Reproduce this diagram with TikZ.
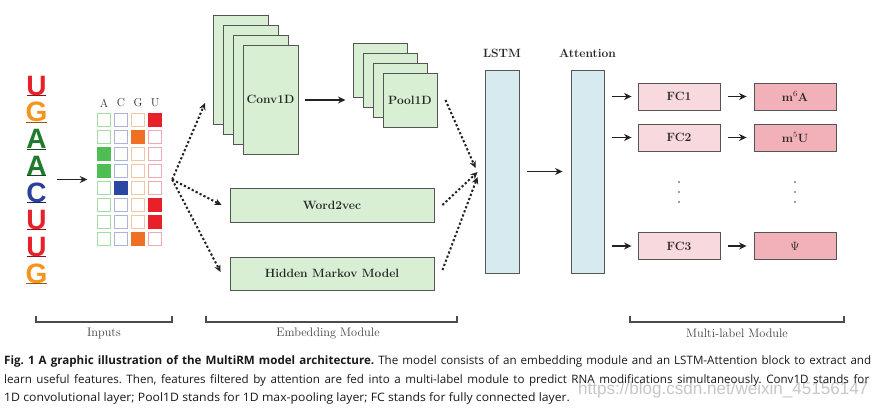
\documentclass[tikz,border=0pt]{standalone}
\usepackage{fontspec}
\usetikzlibrary{arrows.meta,calc,fit}
\newfontfamily\logofont{Liberation Sans}
\newfontfamily\capfont{Open Sans}
\newfontfamily\wmfont{Liberation Sans}
\definecolor{cU}{HTML}{E8202A}
\definecolor{cG}{HTML}{F7941D}
\definecolor{cA}{HTML}{1F7A2E}
\definecolor{cC}{HTML}{2B3F9A}
\definecolor{gA}{HTML}{4DBE53}
\definecolor{gC}{HTML}{2A47A3}
\definecolor{gG}{HTML}{EF7023}
\definecolor{gU}{HTML}{E8202A}
\definecolor{lA}{HTML}{A6DAA6}
\definecolor{lC}{HTML}{A9B5DD}
\definecolor{lG}{HTML}{F6C3A3}
\definecolor{lU}{HTML}{F3A9B1}
\definecolor{embfill}{HTML}{D9EFD4}
\definecolor{lstmfill}{HTML}{D7EAF0}
\definecolor{fcfill}{HTML}{F8D9DD}
\definecolor{outfill}{HTML}{F2B1B9}
\definecolor{edgec}{HTML}{555555}
\definecolor{arr}{HTML}{222222}
\tikzset{
  box/.style={draw=edgec, line width=0.9pt, inner sep=0pt, anchor=center},
  emb/.style={box, fill=embfill},
  rnn/.style={box, fill=lstmfill},
  fcbox/.style={box, fill=fcfill, minimum width=82pt, minimum height=27pt},
  outbox/.style={box, fill=outfill, minimum width=82pt, minimum height=27pt},
  lbl/.style={font=\fontsize{12}{14}\selectfont\bfseries, text=black!85},
  cell/.style={line width=1pt, minimum size=13pt, inner sep=0pt, anchor=center},
  logo/.style={font=\logofont\bfseries\fontsize{28}{28}\selectfont, inner sep=0pt},
  hdr/.style={font=\fontsize{11.5}{13}\selectfont, text=black!80, inner sep=0pt},
  arrowsolid/.style={draw=arr, line width=1.6pt, -{Stealth[length=7.5pt,width=7pt]}},
  dotarrow/.style={draw=arr, line width=2pt, dash pattern=on 2.2pt off 2.2pt, -{Stealth[length=7pt,width=6.5pt]}},
  bracket/.style={draw=black!70, line width=1.1pt},
  brlbl/.style={font=\fontsize{12.3}{14}\selectfont, text=black!75, inner sep=0pt},
  capnode/.style={anchor=base west, inner sep=0pt, font=\capfont\fontsize{11.6}{13}\selectfont\frenchspacing, text=black!90},
}
\begin{document}
\begin{tikzpicture}[x=1pt,y=-1pt]
\useasboundingbox[fill=white] (0,0) rectangle (876,410);

% sequence logo
\foreach \i/\L/\cc in {0/U/cU,1/G/cG,2/A/cA,3/A/cA,4/C/cC,5/U/cU,6/U/cU,7/G/cG} {
  \pgfmathsetmacro\yb{95+26.9*\i}
  \node[logo, text=\cc, anchor=base] (seq\i) at (36.5,\yb) {\L};
  \draw[\cc!60!black, line width=0.6pt] ($(seq\i.base west)+(0.5,0)$) -- ($(seq\i.base east)+(-0.5,0)$);
}
\node[fit=(seq0)(seq7), inner sep=0pt] (logo) {};

% one-hot grid
\foreach \c/\col in {1/A,2/C,3/G,4/U} {
  \pgfmathsetmacro\xx{104+17*(\c-1)}
  \node[hdr] (hdr\col) at (\xx,103) {\col};
}
\foreach \r/\fc in {1/4,2/3,3/1,4/1,5/2,6/4,7/4,8/3} {
  \foreach \c/\col in {1/A,2/C,3/G,4/U} {
    \pgfmathsetmacro\xx{104+17*(\c-1)}
    \pgfmathsetmacro\yy{120+17*(\r-1)}
    \ifnum\c=\fc
      \node[cell, fill=g\col, draw=g\col] (cell-\r-\c) at (\xx,\yy) {};
    \else
      \node[cell, draw=l\col, fill=white] (cell-\r-\c) at (\xx,\yy) {};
    \fi
  }
}
\node[fit=(cell-1-1)(cell-8-4), inner sep=0pt] (grid) {};
\draw[arrowsolid] ($(grid.west)+(-40,0)$) -- ($(grid.west)+(-9.5,0)$);
\coordinate (split) at ($(grid.east)+(10,0)$);

% Conv1D stack
\node[emb, minimum width=55pt, minimum height=109pt] (c1) at (240.5,69.5) {};
\node[emb, minimum width=55pt, minimum height=109pt] (c2) at (250.5,79.5) {};
\node[emb, minimum width=55pt, minimum height=109pt] (c3) at (260.5,89.5) {};
\node[emb, minimum width=55pt, minimum height=109pt] (c4) at (270.5,99.5) {};
\node[lbl] (convlbl) at (c4) {Conv1D};

% Pool1D stack
\node[emb, minimum width=54pt, minimum height=54pt] (p1) at (380,70) {};
\node[emb, minimum width=54pt, minimum height=54pt] (p2) at (390,80) {};
\node[emb, minimum width=54pt, minimum height=54pt] (p3) at (400,90) {};
\node[emb, minimum width=54pt, minimum height=54pt] (p4) at (410,100) {};
\node[lbl] (poollbl) at (p4) {Pool1D};
\draw[arrowsolid] ($(c4.east)+(7,0.5)$) -- ($(c4.east)+(47,0.5)$);

% Word2vec, HMM
\node[emb, minimum width=204pt, minimum height=34pt] (w2v) at (332,205) {};
\node[lbl] at (w2v) {Word2vec};
\node[emb, minimum width=204pt, minimum height=33pt] (hmm) at (332,273.5) {};
\node[lbl] at (hmm) {Hidden Markov Model};

% LSTM / Attention
\node[rnn, minimum width=34pt, minimum height=203pt] (lstm) at (502,171.5) {};
\node[rnn, minimum width=33pt, minimum height=203pt] (att) at (587.5,171.5) {};
\node[lbl] (lstmlbl) at (502,53) {LSTM};
\node[lbl] (attlbl) at (587.5,53) {Attention};
\draw[arrowsolid] ($(lstm.east)+(8,0)$) -- ($(att.west)+(-8,0)$);

% dotted connectors
\draw[dotarrow] (split) -- ($(c1.south west)+(-7.5,-21.5)$);
\draw[dotarrow] (split) -- ($(w2v.west)+(-8,0)$);
\draw[dotarrow] (split) -- ($(hmm.west)+(-9,-1.5)$);
\draw[dotarrow] ($(p4.east)+(8,0)$) -- ($(lstm.west)+(-9,-3.5)$);
\draw[dotarrow] ($(w2v.east)+(8,0)$) -- ($(lstm.west)+(-7,0.5)$);
\draw[dotarrow] ($(hmm.east)+(8,-3.5)$) -- ($(lstm.west)+(-7,5.5)$);

% multi-label module
\node[fcbox] (fc1) at (679,96.5) {};
\node[fcbox] (fc2) at (679,137.5) {};
\node[fcbox] (fc3) at (679,246) {};
\node[lbl] at (fc1) {FC1};
\node[lbl] at (fc2) {FC2};
\node[lbl] at (fc3) {FC3};
\node[outbox] (out1) at (795,96.5) {};
\node[outbox] (out2) at (795,137.5) {};
\node[outbox] (out3) at (795,246) {};
\node[lbl] at (out1) {m$^{6}$A};
\node[lbl] at (out2) {m$^{5}$U};
\node[lbl] at (out3) {$\Psi$};
\foreach \k in {1,2,3} {
  \draw[arrowsolid] ($(fc\k.west)+(-26,0)$) -- ($(fc\k.west)+(-6,0)$);
  \draw[arrowsolid] ($(fc\k.east)+(8,0)$) -- ($(out\k.west)+(-7,0)$);
}
\foreach \yy in {182,192,202} {
  \fill[black!75] (679,\yy) circle (0.8pt);
  \fill[black!75] (795,\yy) circle (0.8pt);
}

% brackets
\draw[bracket] (36,316) -- (36,322) -- (172,322) -- (172,316);
\node[brlbl] (inlbl) at (104,333) {Inputs};
\draw[bracket] (206,316) -- (206,322) -- (457,322) -- (457,316);
\node[brlbl] (emblbl) at (328,333) {Embedding Module};
\draw[bracket] (630,316) -- (630,322) -- (844,322) -- (844,316);
\node[brlbl] (mllbl) at (737,333) {Multi-label Module};

% watermark
\node[anchor=base west, inner sep=0pt, text=black!22] (wm) at (578,394)
  {\resizebox{290pt}{12.5pt}{\wmfont https://blog.csdn.net/weixin\_45156147}};

% caption
\node[capnode] (cap1) at (4,364) {\makebox[867pt][s]{\bfseries Fig.\ 1 A graphic illustration of the MultiRM model architecture.\mdseries\ The model consists of an embedding module and an LSTM-Attention block to extract and}};
\node[capnode] (cap2) at (4,383) {\makebox[865pt][s]{learn useful features. Then, features filtered by attention are fed into a multi-label module to predict RNA modifications simultaneously. Conv1D stands for}};
\node[capnode] (cap3) at (4,401) {\scalebox{1.055}[1]{1D convolutional layer; Pool1D stands for 1D max-pooling layer; FC stands for fully connected layer.}};
\end{tikzpicture}
\end{document}
